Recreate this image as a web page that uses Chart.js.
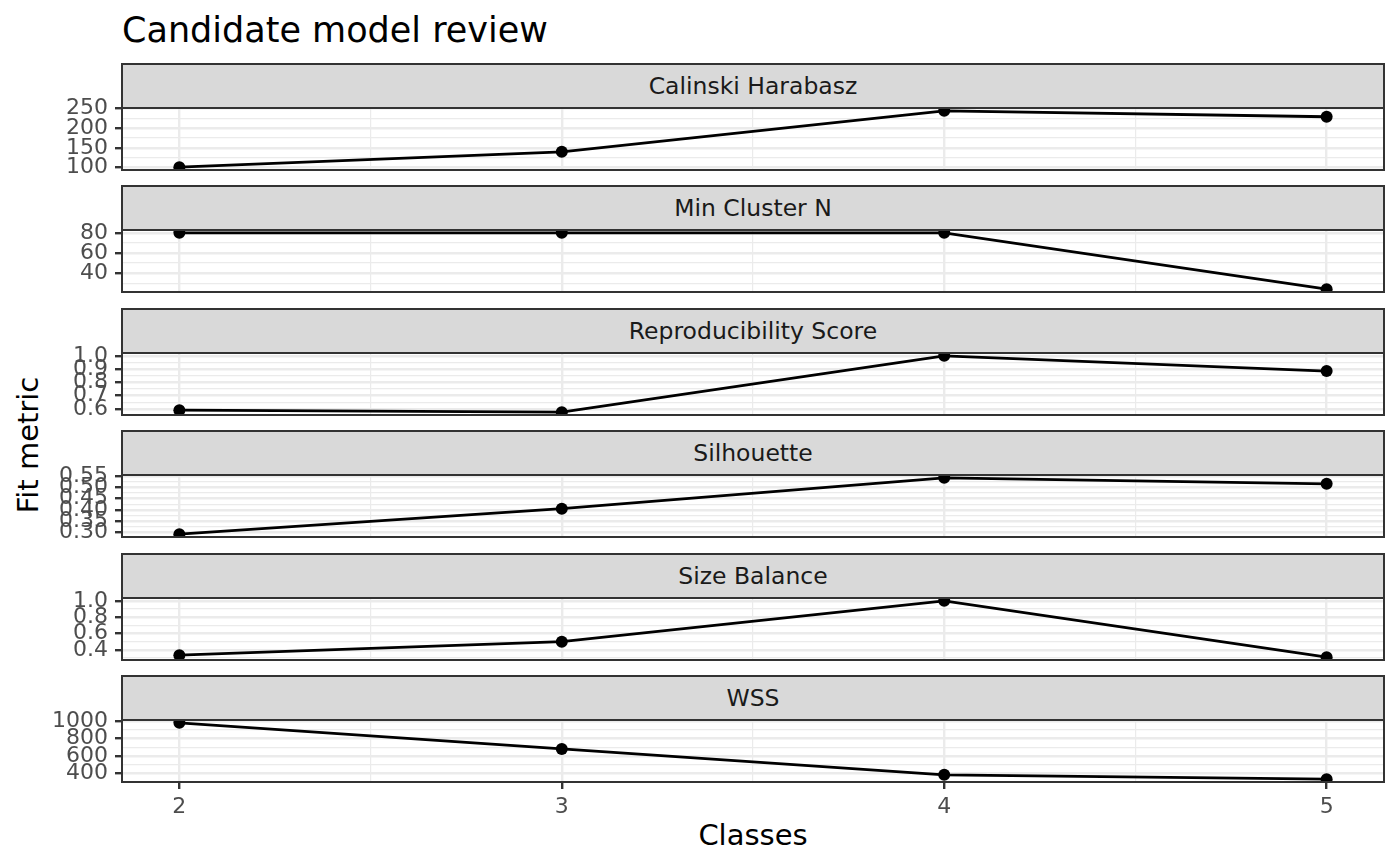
<!DOCTYPE html>
<html>
<head>
<meta charset="utf-8">
<title>Candidate model review</title>
<script src="https://cdn.jsdelivr.net/npm/chart.js@4.4.1/dist/chart.umd.min.js"></script>
<style>
  html, body { margin: 0; padding: 0; background: #fff; }
  body { width: 1400px; height: 866px; position: relative; overflow: hidden; font-family: 'DejaVu Sans', sans-serif; }
  #title { position: absolute; left: 122px; top: 11px; font-size: 35px; line-height: 38px; color: #000; white-space: nowrap; }
  .strip { position: absolute; left: 121px; width: 1264px; height: 46px; box-sizing: border-box; background: #D9D9D9;
           border: 2px solid #333; color: #1A1A1A; font-size: 23.5px; display: flex; align-items: center; justify-content: center; }
  canvas { position: absolute; left: 0; }
  #ylab { position: absolute; left: -72px; top: 430px; width: 200px; height: 30px; line-height: 30px; text-align: center;
          font-size: 29px; color: #000; transform: rotate(-90deg); }
  #xlab { position: absolute; left: 553px; top: 819px; width: 400px; height: 32px; line-height: 32px; text-align: center;
          font-size: 29px; color: #000; }
</style>
</head>
<body>
<div id="title">Candidate model review</div>
<div id="ylab">Fit metric</div>
<div id="xlab">Classes</div>
<script>
// values
const classes = [2, 3, 4, 5];
const calinski = [101, 140, 244, 229];
const minClusterN = [80, 80, 80, 24];
const reproducibility = [0.59, 0.575, 1.0, 0.885];
const silhouette = [0.291, 0.405, 0.543, 0.516];
const sizeBalance = [0.335, 0.50, 1.0, 0.31];
const wss = [978, 680, 385, 335];

// tick labels
const xTicks = [2, 3, 4, 5];
const xTickLabels = ['2', '3', '4', '5'];
const calinskiTicks = [100, 150, 200, 250];
const calinskiTickLabels = ['100', '150', '200', '250'];
const minClusterTicks = [40, 60, 80];
const minClusterTickLabels = ['40', '60', '80'];
const reproTicks = [0.6, 0.7, 0.8, 0.9, 1.0];
const reproTickLabels = ['0.6', '0.7', '0.8', '0.9', '1.0'];
const silTicks = [0.30, 0.35, 0.40, 0.45, 0.50, 0.55];
const silTickLabels = ['0.30', '0.35', '0.40', '0.45', '0.50', '0.55'];
const balanceTicks = [0.4, 0.6, 0.8, 1.0];
const balanceTickLabels = ['0.4', '0.6', '0.8', '1.0'];
const wssTicks = [400, 600, 800, 1000];
const wssTickLabels = ['400', '600', '800', '1000'];

const panels = [
    { name: 'Calinski Harabasz', values: calinski, ticks: calinskiTicks, labels: calinskiTickLabels },
    { name: 'Min Cluster N', values: minClusterN, ticks: minClusterTicks, labels: minClusterTickLabels },
    { name: 'Reproducibility Score', values: reproducibility, ticks: reproTicks, labels: reproTickLabels },
    { name: 'Silhouette', values: silhouette, ticks: silTicks, labels: silTickLabels },
    { name: 'Size Balance', values: sizeBalance, ticks: balanceTicks, labels: balanceTickLabels },
    { name: 'WSS', values: wss, ticks: wssTicks, labels: wssTickLabels },
];

Chart.defaults.font.family = "'DejaVu Sans', sans-serif";

const PAD = 26;       // room above/below the plot for the y labels (label half height + tick padding)
const XAXIS = 48;     // x axis strip under the last panel
const PLOT_H = 62;
const STRIP_H = 44;

// ggplot style: 5% expansion and minor breaks halfway between majors
const expand = (vals, mult) => {
    const lo = Math.min(...vals), hi = Math.max(...vals);
    const d = (hi - lo) * mult;
    return [lo - d, hi + d];
};

const withMinor = (majors, labels, lo, hi) => {
    const step = majors[1] - majors[0];
    const ext = [majors[0] - step, ...majors, majors[majors.length - 1] + step];
    const out = majors.map((v, i) => ({ value: v, minor: false, text: labels[i] }));
    for (let k = 1; k < ext.length; k++) {
        out.push({ value: (ext[k - 1] + ext[k]) / 2, minor: true, text: '' });
    }
    return out.filter(t => t.value >= lo - 1e-9 && t.value <= hi + 1e-9).sort((a, b) => a.value - b.value);
};

const panelBorder = {
    id: 'panelBorder',
    afterDraw(chart) {
        const a = chart.chartArea;
        const ctx = chart.ctx;
        ctx.save();
        ctx.strokeStyle = '#333333';
        ctx.lineWidth = 2;
        ctx.strokeRect(a.left, a.top, a.right - a.left, a.bottom - a.top);
        ctx.restore();
    }
};

const xRange = expand(classes, 0.05);

panels.forEach((p, i) => {
    const last = i === panels.length - 1;
    const stripTop = Math.round(64 + 122.4 * i);
    const plotTop = stripTop + STRIP_H;

    const strip = document.createElement('div');
    strip.className = 'strip';
    strip.style.top = (stripTop - 1) + 'px';
    strip.textContent = p.name;
    document.body.appendChild(strip);

    const canvas = document.createElement('canvas');
    const h = PLOT_H + PAD + (last ? XAXIS : PAD);
    canvas.width = 1400;
    canvas.height = h;
    canvas.style.width = '1400px';
    canvas.style.height = h + 'px';
    canvas.style.top = (plotTop - PAD) + 'px';
    document.body.appendChild(canvas);

    const yRange = expand(p.values, 0.05);

    new Chart(canvas, {
        type: 'line',
        data: {
            datasets: [{
                data: classes.map((c, k) => ({ x: c, y: p.values[k] })),
                borderColor: '#000000',
                borderWidth: 2.8,
                pointRadius: 6,
                pointHoverRadius: 6,
                pointBackgroundColor: '#000000',
                pointBorderWidth: 0,
                tension: 0,
                clip: 0,
            }],
        },
        options: {
            responsive: false,
            animation: false,
            events: [],
            layout: { padding: { top: PAD, bottom: last ? 0 : PAD, left: 0, right: 16 } },
            plugins: { legend: { display: false }, tooltip: { enabled: false } },
            scales: {
                x: {
                    type: 'linear',
                    min: xRange[0],
                    max: xRange[1],
                    bounds: 'data',
                    afterBuildTicks: s => { s.ticks = withMinor(xTicks, xTickLabels, xRange[0], xRange[1]); },
                    afterFit: s => { s.height = last ? XAXIS : 0; },
                    border: { display: false },
                    grid: {
                        color: '#EBEBEB',
                        lineWidth: c => (c.tick && c.tick.minor ? 1.2 : 2.4),
                        drawTicks: last,
                        tickLength: 7,
                        tickWidth: 2.4,
                        tickColor: c => (c.tick && c.tick.minor ? 'rgba(0,0,0,0)' : '#333333'),
                    },
                    ticks: {
                        display: last,
                        autoSkip: false,
                        maxRotation: 0,
                        padding: 5,
                        color: '#4D4D4D',
                        font: { size: 22 },
                        callback: (v, k, ticks) => ticks[k].text,
                    },
                },
                y: {
                    type: 'linear',
                    min: yRange[0],
                    max: yRange[1],
                    bounds: 'data',
                    afterBuildTicks: s => { s.ticks = withMinor(p.ticks, p.labels, yRange[0], yRange[1]); },
                    afterFit: s => { s.width = 122; },
                    border: { display: false },
                    grid: {
                        color: '#EBEBEB',
                        lineWidth: c => (c.tick && c.tick.minor ? 1.2 : 2.4),
                        tickLength: 7,
                        tickWidth: 2.4,
                        tickColor: c => (c.tick && c.tick.minor ? 'rgba(0,0,0,0)' : '#333333'),
                    },
                    ticks: {
                        autoSkip: false,
                        padding: 7,
                        color: '#4D4D4D',
                        font: { size: 22 },
                        callback: (v, k, ticks) => ticks[k].text,
                    },
                },
            },
        },
        plugins: [panelBorder],
    });
});
</script>
</body>
</html>
